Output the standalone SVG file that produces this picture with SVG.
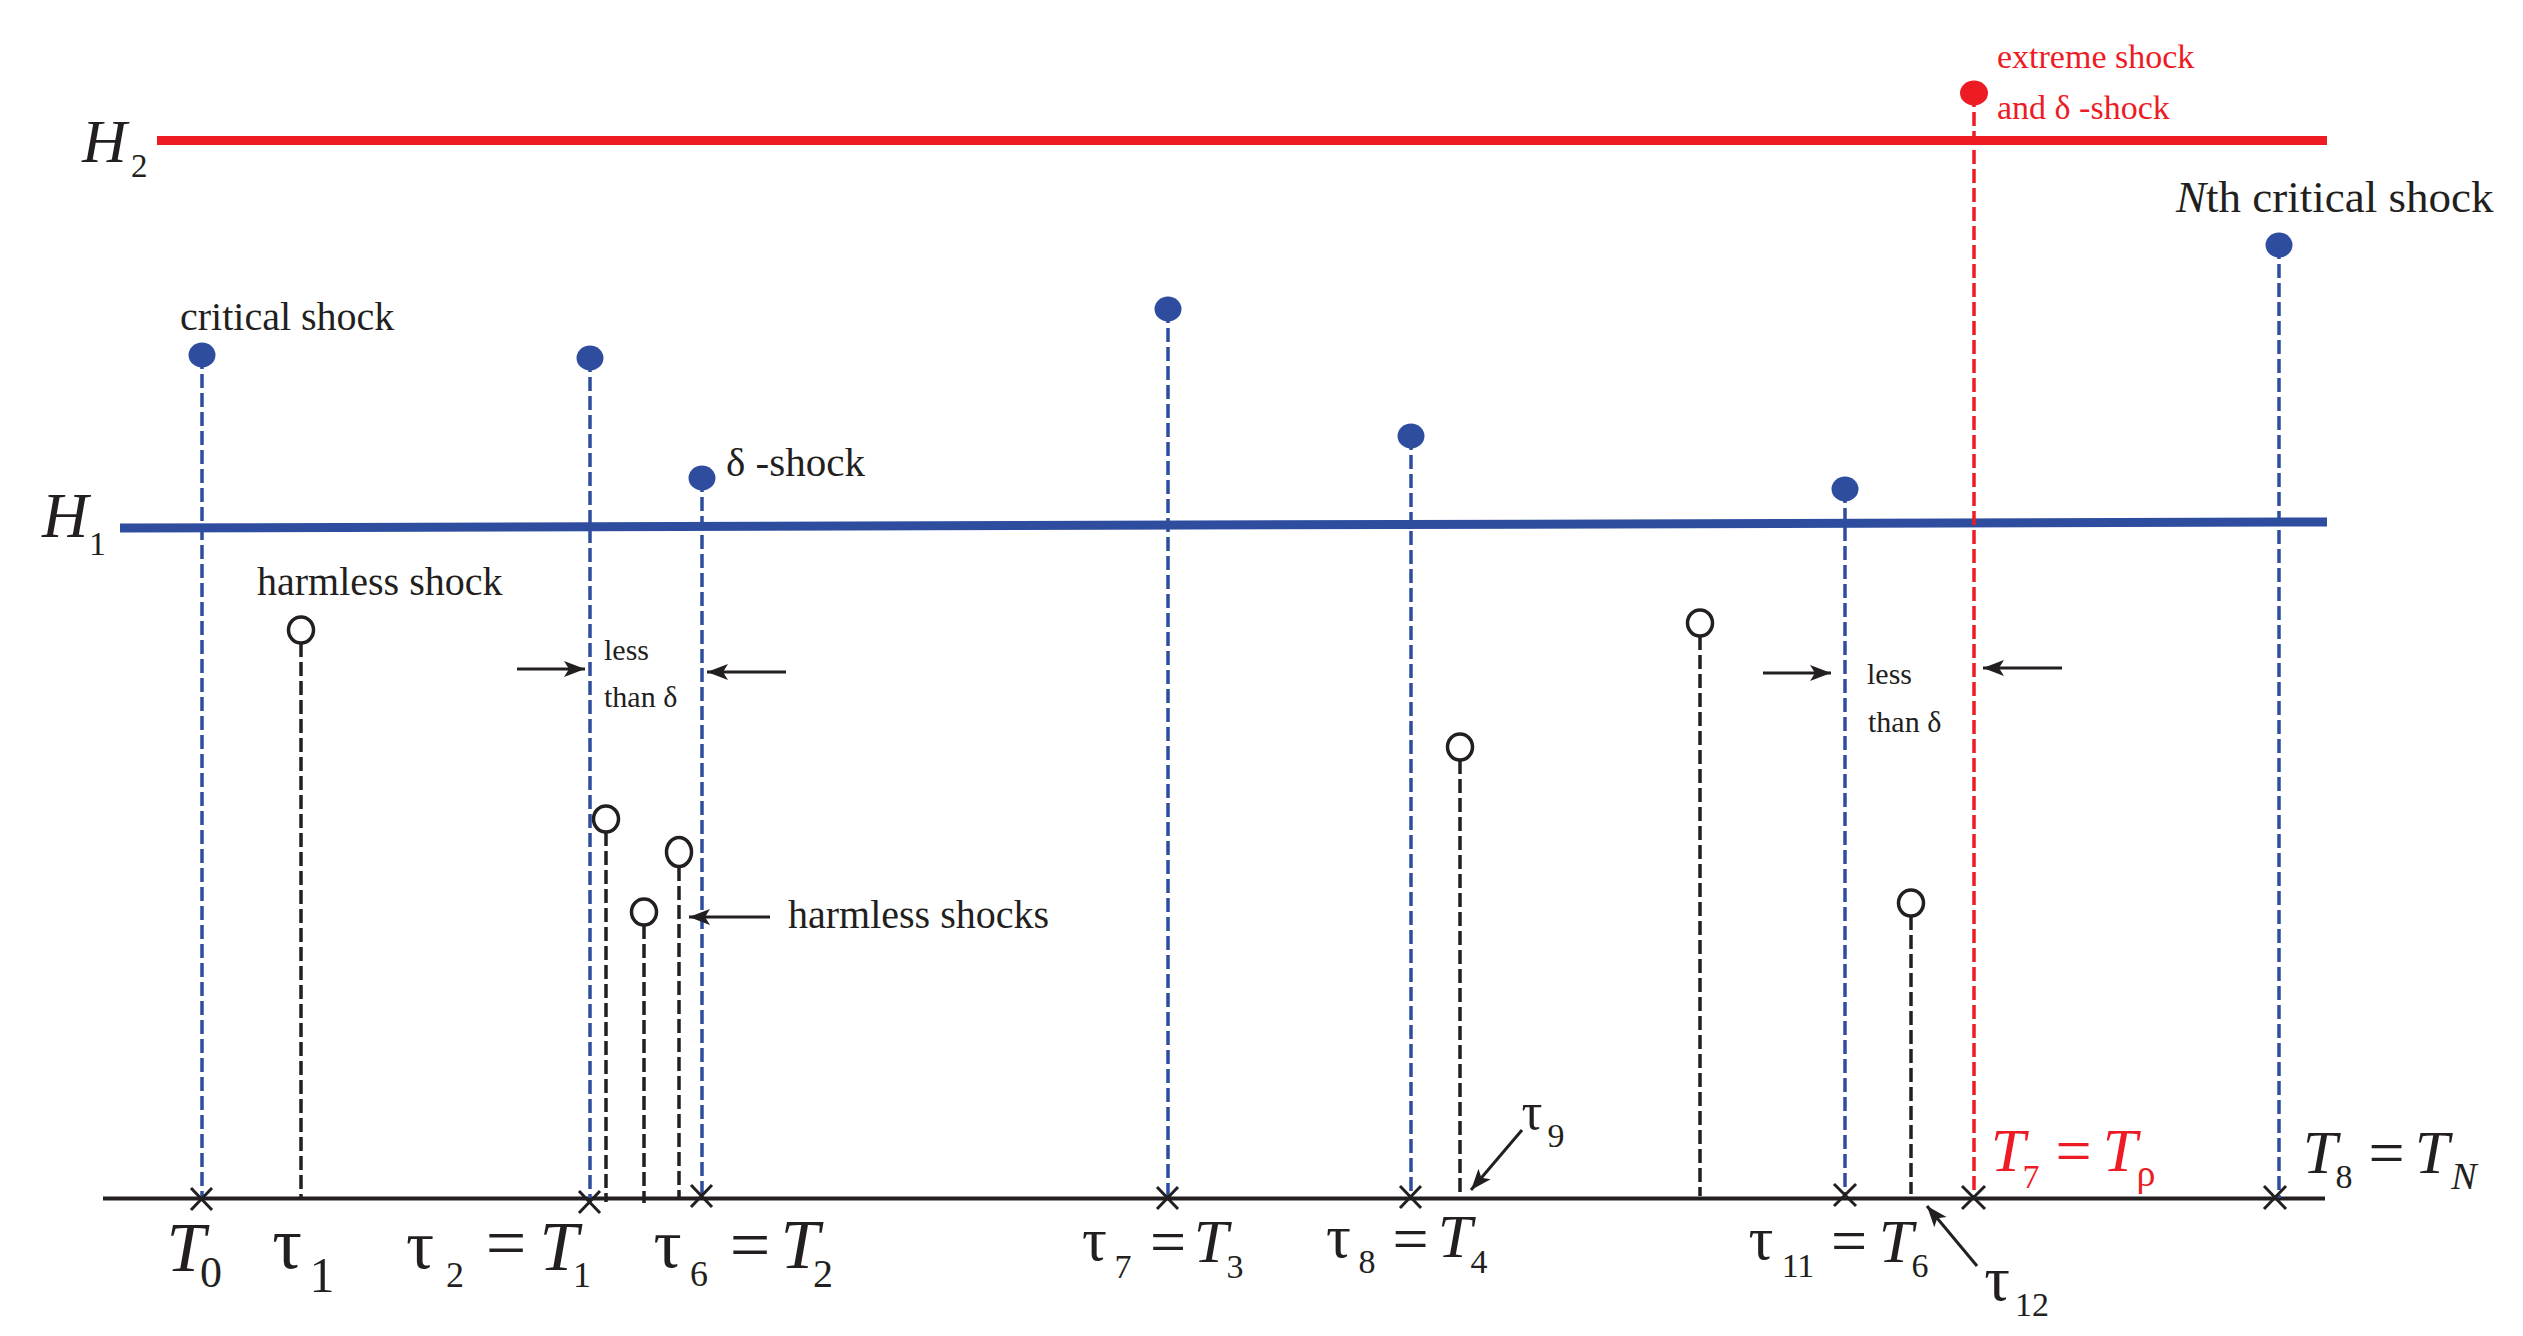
<svg xmlns="http://www.w3.org/2000/svg" width="2523" height="1336" viewBox="0 0 2523 1336">
<defs>
<style>
.bd{stroke:#2E4D9F;stroke-width:3.5;stroke-dasharray:14 5;fill:none}
.rd{stroke:#ED1C24;stroke-width:3.5;stroke-dasharray:14 5;fill:none}
.kd{stroke:#231F20;stroke-width:3.5;stroke-dasharray:14 5;fill:none}
.bdot{fill:#2E4D9F}
.rdot{fill:#ED1C24}
.open{fill:#fff;stroke:#231F20;stroke-width:3.5}
.t{font-family:"Liberation Serif","Times New Roman",serif;fill:#231F20}
.red{fill:#ED1C24}
.it{font-style:italic}
.arr{stroke:#231F20;stroke-width:3;fill:none;marker-end:url(#ah)}
.xm{stroke:#231F20;stroke-width:3;fill:none}
</style>
<marker id="ah" markerUnits="userSpaceOnUse" viewBox="0 0 22 18" markerWidth="22" markerHeight="18" refX="21" refY="9" orient="auto">
<path d="M21,9 L0,1 L5,9 L0,17 Z" fill="#231F20"/>
</marker>
</defs>
<rect width="2523" height="1336" fill="#fff"/>

<!-- thresholds -->
<g id="H2">
<line x1="157" y1="140.5" x2="2327" y2="140.5" stroke="#ED1C24" stroke-width="9"/>
<text class="t it" x="82" y="162" font-size="62">H</text>
<text class="t" x="131" y="177" font-size="33">2</text>
</g>
<g id="H1">
<line x1="120" y1="528" x2="2327" y2="522" stroke="#2E4D9F" stroke-width="9"/>
<text class="t it" x="42" y="537" font-size="64">H</text>
<text class="t" x="89" y="555" font-size="34">1</text>
</g>

<!-- time axis -->
<g id="axis">
<line x1="103" y1="1198.5" x2="2325" y2="1198.5" stroke="#231F20" stroke-width="4"/>
</g>

<!-- critical shocks -->
<g id="shock-T0">
<line class="bd" x1="202" y1="355" x2="202" y2="1198"/>
<ellipse class="bdot" cx="202" cy="355" rx="13.5" ry="12.5"/>
<path class="xm" d="M191,1188 L212,1210 M212,1188 L191,1210"/>
</g>
<g id="shock-T1">
<line class="bd" x1="590" y1="358" x2="590" y2="1198"/>
<ellipse class="bdot" cx="590" cy="358" rx="13.5" ry="12.5"/>
<path class="xm" d="M579,1191 L600,1213 M600,1191 L579,1213"/>
</g>
<g id="shock-T2">
<line class="bd" x1="702" y1="478" x2="702" y2="1198"/>
<ellipse class="bdot" cx="702" cy="478" rx="13.5" ry="12.5"/>
<path class="xm" d="M691,1185 L712,1207 M712,1185 L691,1207"/>
</g>
<g id="shock-T3">
<line class="bd" x1="1168" y1="309" x2="1168" y2="1198"/>
<ellipse class="bdot" cx="1168" cy="309" rx="13.5" ry="12.5"/>
<path class="xm" d="M1157,1187 L1178,1209 M1178,1187 L1157,1209"/>
</g>
<g id="shock-T4">
<line class="bd" x1="1411" y1="436" x2="1411" y2="1198"/>
<ellipse class="bdot" cx="1411" cy="436" rx="13.5" ry="12.5"/>
<path class="xm" d="M1400,1186 L1421,1208 M1421,1186 L1400,1208"/>
</g>
<g id="shock-T6">
<line class="bd" x1="1845" y1="489" x2="1845" y2="1198"/>
<ellipse class="bdot" cx="1845" cy="489" rx="13.5" ry="12.5"/>
<path class="xm" d="M1834,1184 L1856,1206 M1856,1184 L1834,1206"/>
</g>
<g id="shock-TN">
<line class="bd" x1="2279" y1="245" x2="2279" y2="1198"/>
<ellipse class="bdot" cx="2279" cy="245" rx="13.5" ry="12.5"/>
<path class="xm" d="M2264,1186 L2286,1209 M2286,1186 L2264,1209"/>
</g>
<g id="shock-Trho">
<line class="rd" x1="1974" y1="93" x2="1974" y2="1198"/>
<ellipse class="rdot" cx="1974" cy="93" rx="14" ry="12.5"/>
<path class="xm" d="M1962,1186 L1985,1209 M1985,1186 L1962,1209"/>
</g>

<!-- harmless shocks -->
<g id="harmless-1">
<line class="kd" x1="301" y1="643" x2="301" y2="1198"/>
<ellipse class="open" cx="301" cy="630" rx="12.5" ry="13"/>
</g>
<g id="harmless-3">
<line class="kd" x1="606" y1="832" x2="606" y2="1202"/>
<ellipse class="open" cx="606" cy="819" rx="12.5" ry="13"/>
</g>
<g id="harmless-4">
<line class="kd" x1="644" y1="925" x2="644" y2="1203"/>
<ellipse class="open" cx="644" cy="912" rx="12.5" ry="13"/>
</g>
<g id="harmless-5">
<line class="kd" x1="679" y1="867" x2="679" y2="1200"/>
<ellipse class="open" cx="679" cy="852" rx="12.5" ry="14.5"/>
</g>
<g id="harmless-9">
<line class="kd" x1="1460" y1="760" x2="1460" y2="1196"/>
<ellipse class="open" cx="1460" cy="747" rx="12.5" ry="13"/>
</g>
<g id="harmless-10">
<line class="kd" x1="1700" y1="636" x2="1700" y2="1196"/>
<ellipse class="open" cx="1700" cy="623" rx="12.5" ry="13"/>
</g>
<g id="harmless-12">
<line class="kd" x1="1911" y1="916" x2="1911" y2="1194"/>
<ellipse class="open" cx="1911" cy="903" rx="12.5" ry="13"/>
</g>

<!-- connectors -->
<g id="connectors">
<line class="arr" x1="517" y1="669" x2="585" y2="669"/>
<line class="arr" x1="786" y1="672" x2="707" y2="672"/>
<line class="arr" x1="770" y1="917" x2="689" y2="917"/>
<line class="arr" x1="1763" y1="673" x2="1831" y2="673"/>
<line class="arr" x1="2062" y1="668" x2="1983" y2="668"/>
<line class="arr" x1="1522" y1="1130" x2="1471" y2="1190"/>
<line class="arr" x1="1977" y1="1266" x2="1927" y2="1206"/>
</g>

<!-- labels -->
<g id="labels">
<text class="t" x="180" y="330" font-size="40">critical shock</text>
<text class="t" x="257" y="595" font-size="40">harmless shock</text>
<text class="t" x="726" y="476" font-size="41">δ -shock</text>
<text class="t" x="604" y="660" font-size="30">less</text>
<text class="t" x="604" y="707" font-size="30">than δ</text>
<text class="t" x="1867" y="684" font-size="30">less</text>
<text class="t" x="1868" y="732" font-size="30">than δ</text>
<text class="t" x="788" y="928" font-size="40">harmless shocks</text>
<text class="t red" x="1997" y="68" font-size="34">extreme shock</text>
<text class="t red" x="1997" y="119" font-size="34">and δ -shock</text>
<text class="t" x="2176" y="212" font-size="45"><tspan class="it">N</tspan>th critical shock</text>
</g>

<g id="axis-labels" text-anchor="middle">
<text class="t it" x="186" y="1271" font-size="70">T</text>
<text class="t" x="211" y="1287" font-size="44">0</text>

<text class="t" x="287" y="1268" font-size="74">τ</text>
<text class="t" x="322" y="1292" font-size="50">1</text>

<text class="t" x="420" y="1268" font-size="70">τ</text>
<text class="t" x="455" y="1287" font-size="36">2</text>
<text class="t" x="506" y="1267" font-size="72">=</text>
<text class="t it" x="559" y="1270" font-size="70">T</text>
<text class="t" x="582" y="1287" font-size="36">1</text>

<text class="t" x="667.5" y="1267" font-size="70">τ</text>
<text class="t" x="699" y="1286" font-size="36">6</text>
<text class="t" x="750" y="1269" font-size="72">=</text>
<text class="t it" x="800" y="1268" font-size="70">T</text>
<text class="t" x="823" y="1287" font-size="40">2</text>

<text class="t" x="1094.5" y="1260" font-size="62">τ</text>
<text class="t" x="1123" y="1278" font-size="34">7</text>
<text class="t" x="1168" y="1263" font-size="64">=</text>
<text class="t it" x="1211" y="1262" font-size="62">T</text>
<text class="t" x="1235" y="1278" font-size="34">3</text>

<text class="t" x="1338.5" y="1257" font-size="62">τ</text>
<text class="t" x="1367" y="1273" font-size="34">8</text>
<text class="t" x="1410.5" y="1260" font-size="64">=</text>
<text class="t it" x="1455" y="1257" font-size="62">T</text>
<text class="t" x="1479" y="1273" font-size="34">4</text>

<text class="t" x="1532" y="1129" font-size="52">τ</text>
<text class="t" x="1556" y="1147" font-size="34">9</text>

<text class="t" x="1761" y="1259" font-size="62">τ</text>
<text class="t" x="1798" y="1277" font-size="34">11</text>
<text class="t" x="1849" y="1262" font-size="64">=</text>
<text class="t it" x="1896" y="1262" font-size="62">T</text>
<text class="t" x="1920" y="1277" font-size="34">6</text>

<text class="t" x="1997" y="1300" font-size="64">τ</text>
<text class="t" x="2032" y="1316" font-size="34">12</text>

<text class="t it red" x="2008" y="1171" font-size="62">T</text>
<text class="t red" x="2031" y="1188" font-size="34">7</text>
<text class="t red" x="2073.5" y="1172" font-size="64">=</text>
<text class="t it red" x="2120" y="1171" font-size="62">T</text>
<text class="t red" x="2146" y="1186" font-size="38">ρ</text>

<text class="t it" x="2320" y="1173" font-size="62">T</text>
<text class="t" x="2344" y="1188" font-size="34">8</text>
<text class="t" x="2386.5" y="1174" font-size="64">=</text>
<text class="t it" x="2432" y="1173" font-size="62">T</text>
<text class="t it" x="2464" y="1189" font-size="38">N</text>
</g>
</svg>
